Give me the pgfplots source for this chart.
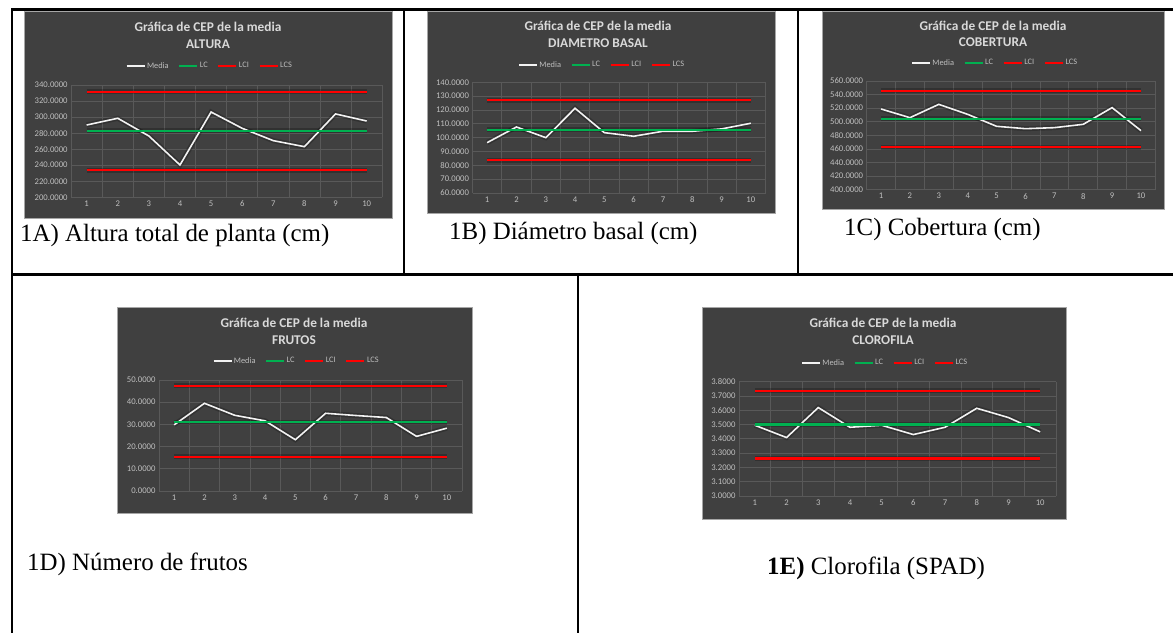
\documentclass[border=0pt]{standalone}
\usepackage{fontspec}
\setmainfont{Liberation Serif}
\newfontfamily\calibri{Carlito}
\usepackage{pgfplots}
\usepackage{pgfplotstable}
\pgfplotsset{compat=1.18}
\definecolor{chartbg}{HTML}{404040}
\definecolor{gridc}{HTML}{595959}
\definecolor{lbl}{HTML}{BFBFBF}
\definecolor{ttl}{HTML}{D9D9D9}
\definecolor{xred}{HTML}{FF0000}
\definecolor{xgreen}{HTML}{00B050}
\definecolor{xwhite}{HTML}{F2F2F2}
\definecolor{chartborder}{HTML}{A6A6A6}

\pgfplotstableread{
x media lc lci lcs
1 290.1 283.0 233.6 331.7
2 298.5 283.0 233.6 331.7
3 276.4 283.0 233.6 331.7
4 240.3 283.0 233.6 331.7
5 306.3 283.0 233.6 331.7
6 286.0 283.0 233.6 331.7
7 270.6 283.0 233.6 331.7
8 263.1 283.0 233.6 331.7
9 303.9 283.0 233.6 331.7
10 295.1 283.0 233.6 331.7
}\dataA
\pgfplotstableread{
x media lc lci lcs
1 96.4 105.6 83.6 127.0
2 107.7 105.6 83.6 127.0
3 100.0 105.6 83.6 127.0
4 121.2 105.6 83.6 127.0
5 103.6 105.6 83.6 127.0
6 101.0 105.6 83.6 127.0
7 104.6 105.6 83.6 127.0
8 104.6 105.6 83.6 127.0
9 106.3 105.6 83.6 127.0
10 110.4 105.6 83.6 127.0
}\dataB
\pgfplotstableread{
x media lc lci lcs
1 518.8 504.2 462.8 545.3
2 506.0 504.2 462.8 545.3
3 525.6 504.2 462.8 545.3
4 510.9 504.2 462.8 545.3
5 493.3 504.2 462.8 545.3
6 489.8 504.2 462.8 545.3
7 491.3 504.2 462.8 545.3
8 496.2 504.2 462.8 545.3
9 520.8 504.2 462.8 545.3
10 486.9 504.2 462.8 545.3
}\dataC
\pgfplotstableread{
x media lc lci lcs
1 29.8 31.0 15.4 47.3
2 39.5 31.0 15.4 47.3
3 34.1 31.0 15.4 47.3
4 31.6 31.0 15.4 47.3
5 23.1 31.0 15.4 47.3
6 35.0 31.0 15.4 47.3
7 34.0 31.0 15.4 47.3
8 33.1 31.0 15.4 47.3
9 24.6 31.0 15.4 47.3
10 28.3 31.0 15.4 47.3
}\dataD
\pgfplotstableread{
x media lc lci lcs
1 3.495 3.500 3.263 3.735
2 3.409 3.500 3.263 3.735
3 3.619 3.500 3.263 3.735
4 3.481 3.500 3.263 3.735
5 3.495 3.500 3.263 3.735
6 3.430 3.500 3.263 3.735
7 3.481 3.500 3.263 3.735
8 3.614 3.500 3.263 3.735
9 3.549 3.500 3.263 3.735
10 3.449 3.500 3.263 3.735
}\dataE

\pgfplotsset{
  cep/.style={
    scale only axis,
    anchor=south west,
    xmin=0.5, xmax=10.5,
    xtick={1,...,10},
    minor xtick={0.5,1.5,...,10.5},
    xminorgrids=true, ymajorgrids=true,
    major grid style={gridc, line width=0.7bp},
    minor grid style={gridc, line width=0.7bp},
    axis line style={draw=none},
    major tick length=0pt, minor tick length=0pt,
    ticklabel style={font=\calibri\fontsize{8.7}{10}\selectfont, text=lbl},
    /pgf/number format/assume math mode=true,
    yticklabel style={/pgf/number format/.cd, fixed, fixed zerofill, precision=4, 1000 sep={}},
    legend columns=4,
    legend style={draw=none, fill=none, font=\calibri\fontsize{8.4}{10}\selectfont, text=lbl,
      at={(0.5,1)}, anchor=center, inner sep=0pt,
      /tikz/every even column/.append style={column sep=8bp},
      nodes={inner xsep=1.5bp}},
    legend image code/.code={\draw[#1] (0bp,0bp) -- (18bp,0bp);},
    clip=false,
  },
  glow/.style={black, opacity=0.22, line width=5bp, forget plot},
}
\tikzset{
  ttlfont/.style={font=\calibri\bfseries\fontsize{13.4}{16}\selectfont, text=ttl, anchor=base},
  capfont/.style={font=\fontsize{25}{30}\selectfont, anchor=base west, inner sep=0pt},
}

\newcommand{\cepplots}[1]{%
  \addplot[glow] table[x=x,y=media]{#1};
  \addplot[glow] table[x=x,y=lc]{#1};
  \addplot[glow] table[x=x,y=lci]{#1};
  \addplot[glow] table[x=x,y=lcs]{#1};
  \addplot[xwhite, line width=1.6bp] table[x=x,y=media]{#1};
  \addplot[xgreen, line width=2.2bp] table[x=x,y=lc]{#1};
  \addplot[xred, line width=2.2bp] table[x=x,y=lci]{#1};
  \addplot[xred, line width=2.2bp] table[x=x,y=lcs]{#1};
  \legend{Media,LC,LCI,LCS}
}

\begin{document}
\begin{tikzpicture}[x=1bp,y=1bp]
\path[use as bounding box] (0,0) rectangle (1173,633);

% chart backgrounds
\filldraw[fill=chartbg, draw=chartborder, line width=0.8bp] (24,415) rectangle (392,622);
\filldraw[fill=chartbg, draw=chartborder, line width=0.8bp] (427,420) rectangle (775,622);
\filldraw[fill=chartbg, draw=chartborder, line width=0.8bp] (822,424) rectangle (1164,622);
\filldraw[fill=chartbg, draw=chartborder, line width=0.8bp] (117,120) rectangle (472,326);
\filldraw[fill=chartbg, draw=chartborder, line width=0.8bp] (702,114) rectangle (1066,326);

% 1A
\begin{axis}[cep, at={(71.1bp,435.7bp)}, width=311.1bp, height=112.3bp,
  ymin=200, ymax=340, ytick={200,220,...,340},
  legend style={xshift=-17bp, yshift=19bp}]
  \cepplots{\dataA}
\end{axis}
% 1B
\begin{axis}[cep, at={(472.5bp,440bp)}, width=293bp, height=110.7bp,
  ymin=60, ymax=140, ytick={60,70,...,140},
  legend style={xshift=-17bp, yshift=17.3bp}]
  \cepplots{\dataB}
\end{axis}
% 1C
\begin{axis}[cep, at={(866.6bp,443.3bp)}, width=288.8bp, height=108.7bp,
  ymin=400, ymax=560, ytick={400,420,...,560},
  legend style={xshift=-16bp, yshift=18bp}]
  \cepplots{\dataC}
\end{axis}
% 1D
\begin{axis}[cep, at={(159bp,142bp)}, width=303bp, height=111bp,
  ymin=0, ymax=50, ytick={0,10,...,50},
  legend style={xshift=-14bp, yshift=19bp}]
  \cepplots{\dataD}
\end{axis}
% 1E
\begin{axis}[cep, at={(739bp,137bp)}, width=317bp, height=114.3bp,
  ymin=3.0, ymax=3.8, ytick={3.0,3.1,3.2,3.3,3.4,3.5,3.6,3.7,3.8},
  legend style={xshift=-12.5bp, yshift=18.7bp}]
  \cepplots{\dataE}
\end{axis}

% titles
\node[ttlfont] at (208,601.7) {Gráfica de CEP de la media};
\node[ttlfont] at (208,584.7) {ALTURA};
\node[ttlfont] at (598,602.7) {Gráfica de CEP de la media};
\node[ttlfont] at (598,585.7) {DIAMETRO BASAL};
\node[ttlfont] at (993,602.7) {Gráfica de CEP de la media};
\node[ttlfont] at (993,586.7) {COBERTURA};
\node[ttlfont] at (294,305.7) {Gráfica de CEP de la media};
\node[ttlfont] at (294,288.7) {FRUTOS};
\node[ttlfont] at (883,305.7) {Gráfica de CEP de la media};
\node[ttlfont] at (883,288.7) {CLOROFILA};

% captions
\node[capfont] at (20,391) {1A) Altura total de planta (cm)};
\node[capfont] at (449,393) {1B) Diámetro basal (cm)};
\node[capfont] at (844,397) {1C) Cobertura (cm)};
\node[capfont] at (27,62) {1D) Número de frutos};
\node[capfont] at (767,58) {\textbf{1E)} Clorofila (SPAD)};

% table rules
\begin{scope}[line width=2.4bp, black]
\draw (11,623.5) -- (1180,623.5);
\draw (12,624.5) -- (12,-5);
\draw (11,358.5) -- (1180,358.5);
\draw (404,623.5) -- (404,358.5);
\draw (798,623.5) -- (798,358.5);
\draw (578,358.5) -- (578,-5);
\end{scope}
\end{tikzpicture}
\end{document}
